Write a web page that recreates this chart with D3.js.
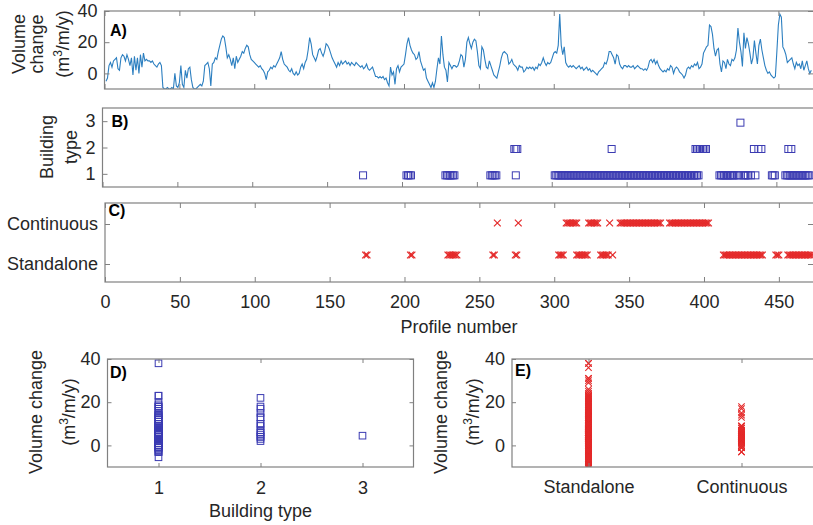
<!doctype html>
<html lang="en">

<head>
  <title>Volume change and building type along the profiles</title>
  <meta charset="utf-8" />
  <script src="https://d3js.org/d3.v7.min.js"></script>
  <style>
    body { margin: 0; background: #fff; }
    svg { display: block; font-family: "Liberation Sans", Arial, Helvetica, sans-serif; }
    .tick line { stroke: #808080; stroke-width: 1; }
    .tick text { fill: #262626; font-size: 18px; font-family: "Liberation Sans", Arial, sans-serif; }
    .title { fill: #262626; font-size: 18px; }
    .tag { fill: #000; font-size: 16px; font-weight: bold; }
  </style>
</head>

<body>
  <svg id="chart" width="813" height="525"></svg>

  <script>
    // volume change (m3/m/y) for profiles 1..472
    const volumeChange = [
      -5, -3, 5, 7, 4, 8, 9, 10, 3, 2,
      10, 12, 11, 8, 12, 9, 5, 10, -1, 11,
      2, 10, 0, 12, 4, 13, 8, 9, 8, 8,
      7, 8, 6, 5, 4, 6, 7, 5, -9, -10,
      -10, -9, -10, -10, -9, -10, 0, -8, -9, -6,
      5, -7, -9, 2, -3, 3, 4, -4, -9, -10,
      -10, -9, -8, -7, -8, -5, 5, 6, 7, 3,
      -8, 6, 7, 10, 9, 14, 18, 22, 24, 23,
      17, 10, 12, 9, 5, 10, 3, 11, 7, 9,
      11, 14, 13, 16, 18, 17, 12, 9, 8, 7,
      6, 5, 4, 5, 3, 2, 0, -4, 1, 2,
      4, 3, 5, 4, 6, 8, 10, 14, 9, 6,
      5, 4, 2, 1, 3, 0, -1, 1, -1, 0,
      4, 6, 3, 7, 9, 15, 23, 19, 12, 10,
      8, 11, 15, 16, 13, 11, 14, 19, 18, 16,
      13, 10, 8, 6, 4, 7, 5, 8, 6, 7,
      8, 6, 7, 5, 7, 6, 5, 7, 6, 5,
      4, 5, 3, 4, 6, 3, 2, 3, 4, 1,
      -2, -2, -3, -2, -3, -2, -4, -3, -6, -8,
      4, -1, 1, -7, 3, 5, 1, 4, 5, 6,
      12, 19, 23, 18, 15, 13, 12, 9, 10, 14,
      8, 5, 2, 3, -3, -5, -7, -9, -6, -9,
      -5, 3, 10, 6, 24, 12, 4, 2, -5.5, 7,
      5, 3, 5, 5, 4, 5, 8, 12, 11, 4,
      9, 20, 23, 19, 16, 20, 22, 21, 14, 5,
      3, 17, 15, 9, 4, 3, 8, 5, 2, -1,
      -2, -3, 1, 5, 10, 13, 14, 13, 12, 6,
      7, 9, 6, 5, 4, 2, 5, 4, 4, 1,
      2, 4, 3, 4, 3, 4, 2, 4, 3, 6,
      5, 7, 10, 7, 5, 7, 6, 7, 10, 13,
      14, 13, 18, 38, 18, 12, 17, 7, 5, 4,
      5, 4, 5, 4, 3, 4, 5, 3, 4, 2,
      3, 4, 2, 3, 1, 2, 1, 0, -1, 1,
      2, 3, 4, 7, 6, 9, 14, 14, 12, 10,
      6, 12, 11, 6, 4, 3, 5, 5, 4, 5,
      4, 4, 5, 3, 4, 5, 4, 3, 3, 2,
      3, 2, 4, 8, 9, 7, 9, 6, 8, 5,
      3, 2, 1, 2, 1, 3, 2, 5, 4, 0,
      3, 4, 3, 1, 0, -1, -3, -1, 3, 4,
      3, 5, 4, 6, 5, 7, 3, 4, 6, 13,
      15, 17, 18, 31, 30, 25, 16, 11, 15, 16,
      6, 1, 8, 7, 3, 9, 6, 5, 9, 8,
      10, 15, 29, 20, 14, 4.5, 26, 16, 23, 19,
      13, 6, 10, 21, 13, 6, 18, 22, 15, 10,
      5, 2, 0, 1, -1, -2, -3, -2, 14, 31,
      38, 36, 17, 15, 12, 7, 8, 9, 10, 6,
      3, 7, 5, 6, 3, 8, 2, 5, 8, 3,
      0, 2
    ];

    // runs of profiles [first, last] holding each building type (panel B)
    const type1Runs = [[174, 174], [203, 206], [229, 235], [259, 263], [276, 276],
      [302, 398], [412, 422], [424, 425], [428, 431], [433, 433], [436, 436],
      [447, 449], [456, 472]];
    const type2Runs = [[275, 277], [340, 340], [396, 403], [435, 435], [438, 438],
      [440, 440], [458, 458], [460, 460]];
    const type3Runs = [[426, 426]];

    // runs of profiles by building arrangement (panel C)
    const continuousRuns = [[262, 262], [276, 276], [308, 315], [323, 329], [337, 337],
      [344, 371], [377, 403]];
    const standaloneRuns = [[174, 175], [204, 205], [229, 235], [259, 260], [274, 275],
      [303, 306], [315, 322], [331, 336], [339, 339], [413, 439], [448, 450], [456, 472]];

    const profileTicks = [0, 50, 100, 150, 200, 250, 300, 350, 400, 450];
    const volumeTicks = [0, 20, 40];
    const buildingTypeTicks = [1, 2, 3];
    const arrangementRows = ["Continuous", "Standalone"];
    const arrangementCols = ["Standalone", "Continuous"];

    const expand = runs => runs.flatMap(([a, b]) => d3.range(a, b + 1));

    const grey = "#808080";
    const lineBlue = "#2c7fc0";
    const markBlue = "#3b3bb2";
    const markRed = "#e42a2a";
    const standaloneRowShift = -9;
    const plain = d3.format("d");

    const svg = d3.select("#chart");

    /* gray box around a panel */
    function frame(p) {
      svg.append("rect")
        .attr("x", p.left).attr("y", p.top)
        .attr("width", p.right - p.left).attr("height", p.bottom - p.top)
        .attr("fill", "none").attr("stroke", grey).attr("stroke-width", 1.2);
    }

    /* one side of ticks, pointing inside the box */
    function side(axisFn, scale, ticks, transform, len, pad, labels) {
      const ax = axisFn(scale).tickValues(ticks)
        .tickSizeInner(-len).tickSizeOuter(0).tickPadding(pad);
      if (!labels) ax.tickFormat("");
      else if (typeof ticks[0] === "number") ax.tickFormat(plain);
      const g = svg.append("g").attr("transform", transform).call(ax);
      g.select(".domain").remove();
      return g;
    }

    function clipFor(id, p) {
      svg.append("clipPath").attr("id", id).append("rect")
        .attr("x", p.left).attr("y", p.top)
        .attr("width", p.right - p.left).attr("height", p.bottom - p.top);
      return "url(#" + id + ")";
    }

    /* rotated axis title line; unit=true writes (m3/m/y) with a raised 3 */
    function rotLine(x, y, text, unit) {
      const t = svg.append("text").attr("class", "title")
        .attr("text-anchor", "middle")
        .attr("transform", `translate(${x},${y}) rotate(-90)`);
      if (!unit) { t.text(text); return; }
      t.append("tspan").text("(m");
      t.append("tspan").attr("dy", -7).attr("font-size", 12).text("3");
      t.append("tspan").attr("dy", 7).text("/m/y)");
    }

    function tag(x, y, s) {
      svg.append("text").attr("class", "tag").attr("x", x).attr("y", y).text(s);
    }

    const cross = r => `M${-r},${-r}L${r},${r}M${-r},${r}L${r},${-r}`;

    // ---------- panel A: volume change along the coast ----------
    const pA = { left: 104.5, right: 815.8, top: 11, bottom: 89 };
    const xA = d3.scaleLinear().domain([0, 475]).range([pA.left, pA.right]);
    const yA = d3.scaleLinear().domain([-10, 40]).range([pA.bottom, pA.top]);

    svg.append("path")
      .datum(volumeChange)
      .attr("clip-path", clipFor("clipA", pA))
      .attr("fill", "none").attr("stroke", lineBlue).attr("stroke-width", 1.1)
      .attr("d", d3.line().x((d, i) => xA(i + 1)).y(d => yA(d)));

    frame(pA);
    side(d3.axisBottom, xA, profileTicks, `translate(0,${pA.bottom})`, 5, 0, false);
    side(d3.axisTop, xA, profileTicks, `translate(0,${pA.top})`, 5, 0, false);
    side(d3.axisLeft, yA, volumeTicks, `translate(${pA.left},0)`, 5, 7, true);
    side(d3.axisRight, yA, volumeTicks, `translate(813,0)`, 5, 0, false);
    tag(110, 35.5, "A)");
    rotLine(24.5, 44, "Volume");
    rotLine(43, 44, "change");
    rotLine(68.5, 44, "", true);

    // ---------- panel B: building type per profile ----------
    const pB = { left: 102.5, right: 815, top: 108, bottom: 187 };
    const xB = d3.scaleLinear().domain([0, 475]).range([pB.left, pB.left + 711.3]);
    const yB = d3.scaleLinear().domain([0.5, 3.5]).range([pB.bottom, pB.top]);

    const buildings = [
      ...expand(type1Runs).map(p => ({ profile: p, type: 1 })),
      ...expand(type2Runs).map(p => ({ profile: p, type: 2 })),
      ...expand(type3Runs).map(p => ({ profile: p, type: 3 }))
    ];

    svg.append("g").attr("clip-path", clipFor("clipB", pB))
      .selectAll("rect").data(buildings).enter().append("rect")
      .attr("x", d => xB(d.profile) - 3.5).attr("y", d => yB(d.type) - 2)
      .attr("width", 7).attr("height", 7)
      .attr("fill", "none").attr("stroke", markBlue).attr("stroke-width", 1);

    frame(pB);
    side(d3.axisBottom, xB, profileTicks, `translate(0,${pB.bottom})`, 5, 0, false);
    side(d3.axisLeft, yB, buildingTypeTicks, `translate(${pB.left},0)`, 5, 7, true);
    tag(111.5, 126.5, "B)");
    rotLine(53, 147, "Building");
    rotLine(76.5, 147, "type");

    // ---------- panel C: standalone / continuous per profile ----------
    const pC = { left: 105, right: 816.3, top: 203, bottom: 282 };
    const xC = d3.scaleLinear().domain([0, 475]).range([pC.left, pC.right]);
    const yC = d3.scalePoint().domain(arrangementRows).range([204, 284]).padding(0.5);

    const arrangement = [
      ...expand(continuousRuns).map(p => ({ profile: p, kind: "Continuous" })),
      ...expand(standaloneRuns).map(p => ({ profile: p, kind: "Standalone" }))
    ];

    svg.append("g").attr("clip-path", clipFor("clipC", pC))
      .selectAll("path").data(arrangement).enter().append("path")
      .attr("transform", d => `translate(${xC(d.profile)},${yC(d.kind) + (d.kind === "Standalone" ? standaloneRowShift : -1)})`)
      .attr("d", cross(3.4))
      .attr("fill", "none").attr("stroke", markRed).attr("stroke-width", 1.2);

    frame(pC);
    side(d3.axisBottom, xC, profileTicks, `translate(0,${pC.bottom})`, 5, 13, true);
    side(d3.axisTop, xC, profileTicks, `translate(0,${pC.top})`, 5, 0, false);
    side(d3.axisLeft, yC, arrangementRows, `translate(${pC.left},0)`, 5, 7, true);
    side(d3.axisRight, yC, arrangementRows, `translate(813,0)`, 5, 0, false);
    tag(108.5, 216, "C)");
    svg.append("text").attr("class", "title").attr("text-anchor", "middle")
      .attr("x", 459).attr("y", 333).text("Profile number");

    // ---------- panel D: volume change by building type ----------
    const pD = { left: 107.5, right: 413.5, top: 359, bottom: 467 };
    const xD = d3.scaleLinear().domain([0.5, 3.5]).range([pD.left, pD.right]);
    const yD = d3.scaleLinear().domain([-10, 40]).range([pD.bottom, pD.top]);

    svg.append("g").attr("clip-path", clipFor("clipD", pD))
      .selectAll("rect").data(buildings).enter().append("rect")
      .attr("x", d => xD(d.type) - 3.3).attr("y", d => yD(volumeChange[d.profile - 1]) - 3.3)
      .attr("width", 6.6).attr("height", 6.6)
      .attr("fill", "none").attr("stroke", markBlue).attr("stroke-width", 1);

    frame(pD);
    side(d3.axisBottom, xD, buildingTypeTicks, `translate(0,${pD.bottom})`, 4, 14, true);
    side(d3.axisTop, xD, buildingTypeTicks, `translate(0,${pD.top})`, 4, 0, false);
    side(d3.axisLeft, yD, volumeTicks, `translate(${pD.left},0)`, 4, 7, true);
    side(d3.axisRight, yD, volumeTicks, `translate(${pD.right},0)`, 4, 0, false);
    tag(110, 378, "D)");
    rotLine(42, 412, "Volume change");
    rotLine(75, 412, "", true);
    svg.append("text").attr("class", "title").attr("text-anchor", "middle")
      .attr("x", 260.5).attr("y", 517).text("Building type");

    // ---------- panel E: volume change by arrangement ----------
    const pE = { left: 512, right: 818, top: 359, bottom: 467 };
    const xE = d3.scalePoint().domain(arrangementCols).range([pE.left, pE.right]).padding(0.5);
    const yE = d3.scaleLinear().domain([-10, 40]).range([pE.bottom, pE.top]);

    const continuousSet = new Set(expand(continuousRuns));
    const byArrangement = volumeChange.map((v, i) => ({
      value: v,
      kind: continuousSet.has(i + 1) ? "Continuous" : "Standalone"
    }));

    svg.append("g").attr("clip-path", clipFor("clipE", pE))
      .selectAll("path").data(byArrangement).enter().append("path")
      .attr("transform", d => `translate(${xE(d.kind)},${yE(d.value)})`)
      .attr("d", cross(3.2))
      .attr("fill", "none").attr("stroke", markRed).attr("stroke-width", 1.1);

    frame(pE);
    side(d3.axisBottom, xE, arrangementCols, `translate(0,${pE.bottom})`, 4, 13, true);
    side(d3.axisTop, xE, arrangementCols, `translate(0,${pE.top})`, 4, 0, false);
    side(d3.axisLeft, yE, volumeTicks, `translate(${pE.left},0)`, 4, 7, true);
    tag(515, 375.5, "E)");
    rotLine(447, 412, "Volume change");
    rotLine(479, 412, "", true);
  </script>
</body>

</html>
